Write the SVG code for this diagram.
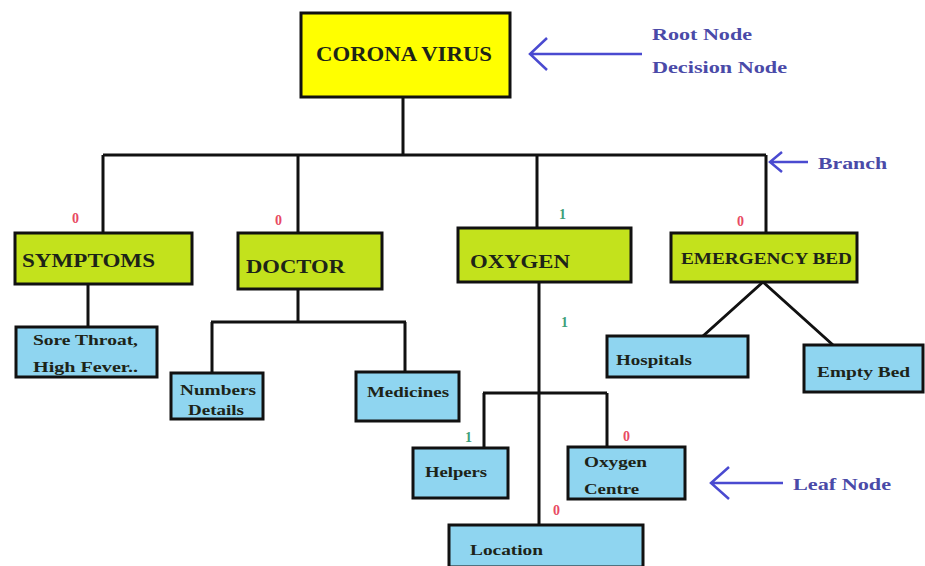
<svg xmlns="http://www.w3.org/2000/svg" width="925" height="566" viewBox="0 0 925 566">
<style>
.box{stroke:#111;stroke-width:3}
.root{fill:#ffff00}
.dec{fill:#c3e21c}
.leaf{fill:#8fd5f0}
.t{font-family:"Liberation Serif","Times New Roman",serif;font-weight:bold;fill:#1d2418}
.con{stroke:#111;stroke-width:3;fill:none}
.ann{stroke:#4a4ad0;stroke-width:2.5;fill:none}
.at{font-family:"Liberation Serif","Times New Roman",serif;font-weight:bold;fill:#4a4aa8;font-size:17px}
.z{font-family:"Liberation Serif",serif;font-weight:bold;fill:#e84a62;font-size:14px}
.o{font-family:"Liberation Serif",serif;font-weight:bold;fill:#3fa07a;font-size:14px}
</style>
<rect width="925" height="566" fill="#ffffff"/>
<g id="connectors">
<path class="con" d="M403 97V155M103 155H766M103 155V233M298 155V233M537 155V228M766 155V233"/>
<path class="con" d="M88 284V327"/>
<path class="con" d="M298 289V322M211 322H406M212 322V373M405 322V372"/>
<path class="con" d="M539 282V525M483 393H607M484 393V448M607 393V447"/>
<path class="con" d="M763 282L703 336M763 282L833 345"/>
</g>
<g id="root"><rect class="box root" x="301" y="13" width="209" height="84"/><text class="t" x="316" y="61" font-size="20" textLength="176" lengthAdjust="spacingAndGlyphs">CORONA VIRUS</text></g>
<g id="symptoms"><rect class="box dec" x="15" y="233" width="177" height="51"/><text class="t" x="22" y="267" font-size="19" textLength="133" lengthAdjust="spacingAndGlyphs">SYMPTOMS</text></g>
<g id="doctor"><rect class="box dec" x="238" y="233" width="144" height="56"/><text class="t" x="246" y="273" font-size="19" textLength="99" lengthAdjust="spacingAndGlyphs">DOCTOR</text></g>
<g id="oxygen"><rect class="box dec" x="458" y="228" width="173" height="54"/><text class="t" x="470" y="268" font-size="19" textLength="100" lengthAdjust="spacingAndGlyphs">OXYGEN</text></g>
<g id="emergency-bed"><rect class="box dec" x="671" y="233" width="186" height="49"/><text class="t" x="681" y="264" font-size="16" textLength="171" lengthAdjust="spacingAndGlyphs">EMERGENCY BED</text></g>
<g id="sore-throat"><rect class="box leaf" x="16" y="327" width="141" height="50"/><text class="t" x="33" y="345" font-size="14" textLength="105" lengthAdjust="spacingAndGlyphs">Sore Throat,</text><text class="t" x="33" y="372" font-size="14" textLength="105" lengthAdjust="spacingAndGlyphs">High Fever..</text></g>
<g id="numbers-details"><rect class="box leaf" x="171" y="373" width="92" height="46"/><text class="t" x="180" y="395" font-size="14" textLength="76" lengthAdjust="spacingAndGlyphs">Numbers</text><text class="t" x="188" y="415" font-size="14" textLength="56" lengthAdjust="spacingAndGlyphs">Details</text></g>
<g id="medicines"><rect class="box leaf" x="356" y="372" width="103" height="49"/><text class="t" x="367" y="397" font-size="14" textLength="82" lengthAdjust="spacingAndGlyphs">Medicines</text></g>
<g id="hospitals"><rect class="box leaf" x="607" y="336" width="141" height="41"/><text class="t" x="616" y="365" font-size="14" textLength="76" lengthAdjust="spacingAndGlyphs">Hospitals</text></g>
<g id="empty-bed"><rect class="box leaf" x="804" y="345" width="119" height="47"/><text class="t" x="817" y="377" font-size="15" textLength="93" lengthAdjust="spacingAndGlyphs">Empty Bed</text></g>
<g id="helpers"><rect class="box leaf" x="413" y="448" width="95" height="50"/><text class="t" x="425" y="477" font-size="14" textLength="62" lengthAdjust="spacingAndGlyphs">Helpers</text></g>
<g id="oxygen-centre"><rect class="box leaf" x="568" y="447" width="117" height="52"/><text class="t" x="584" y="467" font-size="14" textLength="63" lengthAdjust="spacingAndGlyphs">Oxygen</text><text class="t" x="584" y="494" font-size="14" textLength="55" lengthAdjust="spacingAndGlyphs">Centre</text></g>
<g id="location"><rect class="box leaf" x="449" y="525" width="194" height="42"/><text class="t" x="470" y="555" font-size="14" textLength="73" lengthAdjust="spacingAndGlyphs">Location</text></g>
<g id="labels">
<text class="z" x="72" y="223">0</text>
<text class="z" x="275" y="225">0</text>
<text class="o" x="559" y="219">1</text>
<text class="z" x="737" y="226">0</text>
<text class="o" x="561" y="327">1</text>
<text class="o" x="465" y="442">1</text>
<text class="z" x="623" y="441">0</text>
<text class="z" x="553" y="515">0</text>
</g>
<g id="annotations">
<path class="ann" d="M530 54H642M547 38L530 54L547 70"/>
<text class="at" x="652" y="40" textLength="100" lengthAdjust="spacingAndGlyphs">Root Node</text>
<text class="at" x="652" y="73" textLength="135" lengthAdjust="spacingAndGlyphs">Decision Node</text>
<path class="ann" d="M770 162H808M782 152L770 162L782 172"/>
<text class="at" x="818" y="169" textLength="69" lengthAdjust="spacingAndGlyphs">Branch</text>
<path class="ann" d="M711 483H783M729 467L711 483L729 499"/>
<text class="at" x="793" y="490" textLength="98" lengthAdjust="spacingAndGlyphs">Leaf Node</text>
</g>
</svg>
